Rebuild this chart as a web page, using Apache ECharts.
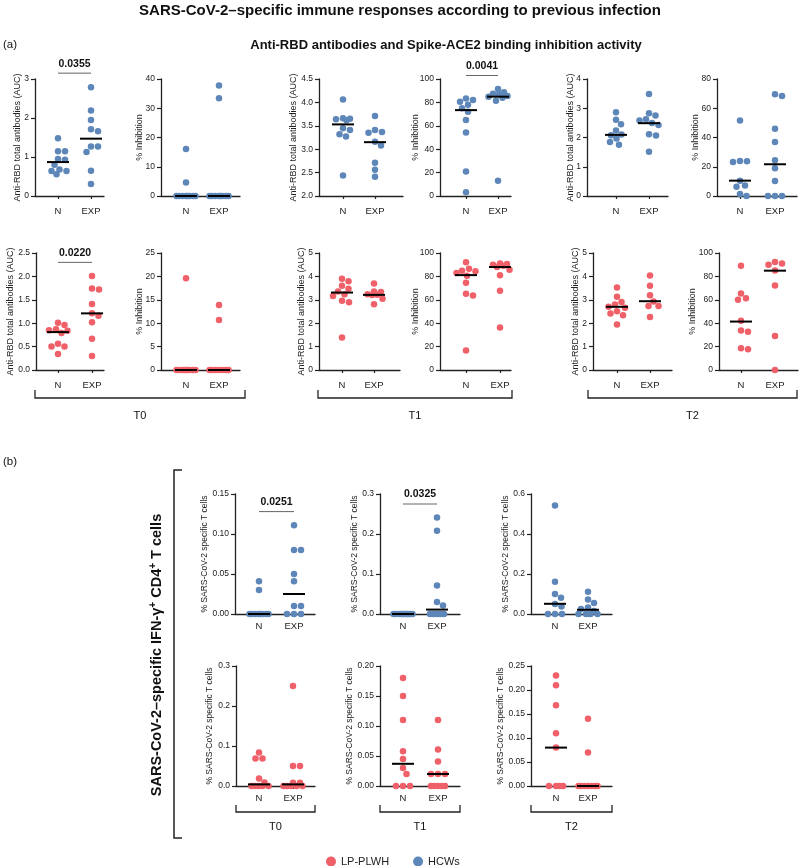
<!DOCTYPE html>
<html><head><meta charset="utf-8">
<script src="https://cdn.jsdelivr.net/npm/echarts@6/dist/echarts.min.js"></script>
<style>html,body{margin:0;padding:0;background:#fff}#c{width:800px;height:866px}</style>
</head><body><div id="c"></div>
<script>
// ---------------- DATA ----------------
const categories = ['N', 'EXP'];
const groups = ['LP-PLWH', 'HCWs'];
const timepoints = ['T0', 'T1', 'T2'];

// (a) HCWs – anti-RBD AUC and % inhibition
const aucT0_HCW_N   = [1.48, 1.15, 1.15, 0.95, 0.93, 0.80, 0.68, 0.64, 0.64, 0.56];
const aucT0_HCW_EXP = [2.79, 2.19, 1.95, 1.71, 1.66, 1.27, 1.27, 1.13, 0.65, 0.31];
const inhT0_HCW_N   = [16.1, 4.6, 0, 0, 0, 0, 0, 0, 0, 0];
const inhT0_HCW_EXP = [37.8, 33.4, 0, 0, 0, 0, 0, 0, 0, 0];
const aucT1_HCW_N   = [4.06, 3.66, 3.65, 3.64, 3.62, 3.45, 3.41, 3.32, 3.27, 2.44];
const aucT1_HCW_EXP = [3.71, 3.41, 3.37, 3.35, 3.16, 3.08, 2.71, 2.56, 2.41];
const inhT1_HCW_N   = [83.4, 82, 80.6, 78, 74.9, 72, 65, 54.3, 20.9, 3.1];
const inhT1_HCW_EXP = [91.4, 88.6, 87.4, 87, 85.4, 84.9, 84, 81.4, 13.1];
const aucT2_HCW_N   = [2.86, 2.61, 2.45, 2.24, 2.10, 2.08, 1.97, 1.85, 1.75];
const aucT2_HCW_EXP = [3.49, 2.83, 2.75, 2.62, 2.58, 2.50, 2.43, 2.11, 2.07, 1.51];
const inhT2_HCW_N   = [51.7, 24, 23.8, 23.3, 10.5, 7.1, 6.4, 1.4, 0];
const inhT2_HCW_EXP = [69.5, 68.3, 45.9, 37, 24.5, 19, 10.3, 0, 0, 0];

// (a) LP-PLWH
const aucT0_PLWH_N   = [1.01, 0.96, 0.87, 0.85, 0.84, 0.79, 0.56, 0.50, 0.50, 0.34];
const aucT0_PLWH_EXP = [2.01, 1.74, 1.72, 1.41, 1.21, 1.16, 1.02, 0.67, 0.30];
const inhT0_PLWH_N   = [19.6, 0, 0, 0, 0, 0, 0, 0, 0, 0];
const inhT0_PLWH_EXP = [13.9, 10.7, 0, 0, 0, 0, 0, 0, 0];
const aucT1_PLWH_N   = [3.90, 3.79, 3.60, 3.47, 3.36, 3.24, 3.16, 2.96, 2.90, 1.39];
const aucT1_PLWH_EXP = [3.70, 3.36, 3.33, 3.24, 3.22, 3.20, 3.04, 2.81];
const inhT1_PLWH_N   = [92, 86.6, 84.9, 84.3, 82.9, 80.6, 74.6, 65.1, 63.7, 16.6];
const inhT1_PLWH_EXP = [91.1, 90.6, 90, 89.1, 88, 85.7, 80.9, 67.7, 36.3];
const aucT2_PLWH_N   = [3.53, 3.13, 2.91, 2.80, 2.70, 2.66, 2.51, 2.41, 2.34, 1.94];
const aucT2_PLWH_EXP = [4.04, 3.60, 3.19, 2.93, 2.73, 2.73, 2.26];
const inhT2_PLWH_N   = [89.1, 65.4, 61.4, 60, 42, 33.7, 32.6, 18.6, 17.7];
const inhT2_PLWH_EXP = [92.3, 91.1, 90, 85.1, 72.3, 29.1, 0];

// (b) % SARS-CoV-2 specific IFN-γ+ CD4+ T cells
const tcT0_HCW_N   = [0.041, 0.030, 0, 0, 0, 0, 0, 0, 0, 0];
const tcT0_HCW_EXP = [0.111, 0.080, 0.080, 0.050, 0.041, 0.010, 0.010, 0, 0, 0];
const tcT1_HCW_N   = [0, 0, 0, 0, 0, 0, 0, 0, 0, 0];
const tcT1_HCW_EXP = [0.241, 0.208, 0.071, 0.030, 0.021, 0, 0, 0, 0, 0];
const tcT2_HCW_N   = [0.542, 0.161, 0.100, 0.081, 0.050, 0.037, 0, 0, 0];
const tcT2_HCW_EXP = [0.111, 0.072, 0.055, 0.033, 0.025, 0.015, 0, 0, 0, 0];
const tcT0_PLWH_N   = [0.084, 0.069, 0.069, 0.019, 0.009, 0, 0, 0, 0, 0];
const tcT0_PLWH_EXP = [0.250, 0.050, 0.050, 0.008, 0.008, 0, 0, 0, 0, 0];
const tcT1_PLWH_N   = [0.180, 0.150, 0.110, 0.058, 0.045, 0.030, 0.020, 0, 0, 0];
const tcT1_PLWH_EXP = [0.110, 0.061, 0.041, 0.020, 0.020, 0.020, 0, 0, 0, 0, 0];
const tcT2_PLWH_N   = [0.230, 0.210, 0.168, 0.110, 0.080, 0, 0, 0, 0];
const tcT2_PLWH_EXP = [0.140, 0.070, 0, 0, 0, 0, 0, 0, 0];

// medians (N, EXP) as drawn
const medAucT0_HCW = [0.87, 1.47], medInhT0_HCW = [0, 0];
const medAucT1_HCW = [3.53, 3.15], medInhT1_HCW = [73.4, 84.9];
const medAucT2_HCW = [2.09, 2.49], medInhT2_HCW = [10.5, 21.7];
const medAucT0_PLWH = [0.81, 1.21], medInhT0_PLWH = [0, 0];
const medAucT1_PLWH = [3.31, 3.21], medInhT1_PLWH = [81.1, 88];
const medAucT2_PLWH = [2.70, 2.94], medInhT2_PLWH = [41.4, 84.9];
const medTcT0_HCW = [0, 0.025], medTcT1_HCW = [0, 0.011], medTcT2_HCW = [0.051, 0.021];
const medTcT0_PLWH = [0.004, 0.004], medTcT1_PLWH = [0.037, 0.020], medTcT2_PLWH = [0.080, 0];

// y-axis ranges [min, max, interval]
const yAucT0_HCW = [0, 3, 1], yInhT0_HCW = [0, 40, 10];
const yAucT1_HCW = [2, 4.5, 0.5], yInhT1_HCW = [0, 100, 20];
const yAucT2_HCW = [0, 4, 1], yInhT2_HCW = [0, 80, 20];
const yAucT0_PLWH = [0, 2.5, 0.5], yInhT0_PLWH = [0, 25, 5];
const yAucT1_PLWH = [0, 5, 1], yInhT1_PLWH = [0, 100, 20];
const yAucT2_PLWH = [0, 5, 1], yInhT2_PLWH = [0, 100, 20];
const yTcT0_HCW = [0, 0.15, 0.05], yTcT1_HCW = [0, 0.3, 0.1], yTcT2_HCW = [0, 0.6, 0.2];
const yTcT0_PLWH = [0, 0.3, 0.1], yTcT1_PLWH = [0, 0.2, 0.05], yTcT2_PLWH = [0, 0.25, 0.05];

// significance p-values and bar levels
const sigLabels = ['0.0355', '0.0041', '0.0220', '0.0251', '0.0325'];
const sigLevels = [3.15, 103, 2.30, 0.128, 0.275];

const nameAUC = 'Anti-RBD total antibodies (AUC)';
const nameInh = '% Inhibition';
const nameTc = '% SARS-CoV-2 specific T cells';

// ---------------- STYLE / LAYOUT ----------------
const FONT = '"Liberation Sans", Arial, Helvetica, sans-serif';
const BLUE = '#5e87b9', RED = '#ef6069', AX = '#222', TXT = '#222';

const A1 = {top: 79, h: 117}, A2 = {top: 253, h: 117};
const B1 = {top: 494, h: 120}, B2 = {top: 666, h: 120};

const panels = [
  {grp: 1, d: [aucT0_HCW_N, aucT0_HCW_EXP], med: medAucT0_HCW, y: yAucT0_HCW, name: nameAUC, nf: 9, r: A1, ax: 35, n: 58, e: 91, end: 104, gap: 13, xm: 10, sig: 0},
  {grp: 1, d: [inhT0_HCW_N, inhT0_HCW_EXP], med: medInhT0_HCW, y: yInhT0_HCW, name: nameInh, nf: 9, r: A1, ax: 161, n: 186, e: 219, end: 240, gap: 17, xm: 10},
  {grp: 1, d: [aucT1_HCW_N, aucT1_HCW_EXP], med: medAucT1_HCW, y: yAucT1_HCW, name: nameAUC, nf: 9, r: A1, ax: 319, n: 343, e: 375, end: 403, gap: 21, xm: 10},
  {grp: 1, d: [inhT1_HCW_N, inhT1_HCW_EXP], med: medInhT1_HCW, y: yInhT1_HCW, name: nameInh, nf: 9, r: A1, ax: 440, n: 466, e: 498, end: 511, gap: 20, xm: 10, sig: 1},
  {grp: 1, d: [aucT2_HCW_N, aucT2_HCW_EXP], med: medAucT2_HCW, y: yAucT2_HCW, name: nameAUC, nf: 9, r: A1, ax: 587, n: 616, e: 649, end: 668, gap: 12, xm: 10},
  {grp: 1, d: [inhT2_HCW_N, inhT2_HCW_EXP], med: medInhT2_HCW, y: yInhT2_HCW, name: nameInh, nf: 9, r: A1, ax: 717, n: 740, e: 775, end: 797, gap: 17, xm: 10},

  {grp: 0, d: [aucT0_PLWH_N, aucT0_PLWH_EXP], med: medAucT0_PLWH, y: yAucT0_PLWH, name: nameAUC, nf: 9, r: A2, ax: 36, n: 58, e: 92, end: 104, gap: 21, xm: 10, sig: 2},
  {grp: 0, d: [inhT0_PLWH_N, inhT0_PLWH_EXP], med: medInhT0_PLWH, y: yInhT0_PLWH, name: nameInh, nf: 9, r: A2, ax: 161, n: 186, e: 219, end: 240, gap: 17, xm: 10},
  {grp: 0, d: [aucT1_PLWH_N, aucT1_PLWH_EXP], med: medAucT1_PLWH, y: yAucT1_PLWH, name: nameAUC, nf: 9, r: A2, ax: 319, n: 342, e: 374, end: 400, gap: 13, xm: 10},
  {grp: 0, d: [inhT1_PLWH_N, inhT1_PLWH_EXP], med: medInhT1_PLWH, y: yInhT1_PLWH, name: nameInh, nf: 9, r: A2, ax: 440, n: 466, e: 500, end: 511, gap: 20, xm: 10},
  {grp: 0, d: [aucT2_PLWH_N, aucT2_PLWH_EXP], med: medAucT2_PLWH, y: yAucT2_PLWH, name: nameAUC, nf: 9, r: A2, ax: 593, n: 617, e: 650, end: 672, gap: 13, xm: 10},
  {grp: 0, d: [inhT2_PLWH_N, inhT2_PLWH_EXP], med: medInhT2_PLWH, y: yInhT2_PLWH, name: nameInh, nf: 9, r: A2, ax: 719, n: 741, e: 775, end: 798, gap: 22, xm: 10},

  {grp: 1, d: [tcT0_HCW_N, tcT0_HCW_EXP], med: medTcT0_HCW, y: yTcT0_HCW, name: nameTc, nf: 8.5, r: B1, ax: 235, n: 259, e: 294, end: 315, gap: 26, xm: 7, sig: 3},
  {grp: 1, d: [tcT1_HCW_N, tcT1_HCW_EXP], med: medTcT1_HCW, y: yTcT1_HCW, name: nameTc, nf: 8.5, r: B1, ax: 380, n: 403, e: 437, end: 460, gap: 21, xm: 7, sig: 4},
  {grp: 1, d: [tcT2_HCW_N, tcT2_HCW_EXP], med: medTcT2_HCW, y: yTcT2_HCW, name: nameTc, nf: 8.5, r: B1, ax: 531, n: 555, e: 588, end: 612, gap: 21, xm: 7},
  {grp: 0, d: [tcT0_PLWH_N, tcT0_PLWH_EXP], med: medTcT0_PLWH, y: yTcT0_PLWH, name: nameTc, nf: 8.5, r: B2, ax: 236, n: 259, e: 293, end: 315, gap: 22, xm: 7},
  {grp: 0, d: [tcT1_PLWH_N, tcT1_PLWH_EXP], med: medTcT1_PLWH, y: yTcT1_PLWH, name: nameTc, nf: 8.5, r: B2, ax: 380, n: 403, e: 438, end: 460, gap: 26, xm: 7},
  {grp: 0, d: [tcT2_PLWH_N, tcT2_PLWH_EXP], med: medTcT2_PLWH, y: yTcT2_PLWH, name: nameTc, nf: 8.5, r: B2, ax: 531, n: 556, e: 588, end: 612, gap: 26, xm: 7}
];

// beeswarm placement (pixel collision avoidance, converted to data offsets)
function swarm(vals, g, pxPerVal, unitPx) {
  const D = 6.8, MAXH = 9.5;
  const order = vals.slice().sort((a, b) => b - a);
  const placed = [], out = [];
  order.forEach(v => {
    const yy = v * pxPerVal;
    let best = 0, bestScore = -1;
    for (let k = 0; k <= Math.round(MAXH * 4); k++) {
      const off = (k % 2 === 1 ? 1 : -1) * Math.ceil(k / 2) * 0.5;
      let md = Infinity;
      placed.forEach(p => { const dd = Math.hypot(p[0] - off, p[1] - yy); if (dd < md) md = dd; });
      if (md >= D) { best = off; break; }
      if (md > bestScore + 1e-6) { bestScore = md; best = off; }
    }
    placed.push([best, yy]);
    out.push([g + best / unitPx, v]);
  });
  return out;
}

const grids = [], xAxes = [], yAxes = [], series = [];
panels.forEach((p, i) => {
  const unit = p.e - p.n, w = p.end - p.ax;
  const xmin = -(p.n - p.ax) / unit, xmax = 1 + (p.end - p.e) / unit;
  const dec = Math.max(0, -Math.floor(Math.log10(p.y[2]) + 1e-9));
  grids.push({left: p.ax, top: p.r.top, width: w, height: p.r.h, containLabel: false, outerBoundsMode: 'none'});
  xAxes.push({
    gridIndex: i, type: 'value', min: xmin, max: xmax,
    axisLine: {show: true, onZero: false, lineStyle: {color: AX, width: 1.3}},
    axisTick: {show: true, customValues: [0, 1], length: 3, lineStyle: {color: AX, width: 1.2}},
    axisLabel: {customValues: [0, 1], formatter: v => categories[Math.round(v)], fontSize: 9.5, color: TXT, fontFamily: FONT, margin: p.xm},
    splitLine: {show: false}
  });
  yAxes.push({
    gridIndex: i, type: 'value', min: p.y[0], max: p.y[1], interval: p.y[2],
    name: p.name, nameLocation: 'middle', nameRotate: 90, nameGap: p.gap, nameMoveOverlap: false,
    nameTextStyle: {fontSize: p.nf, color: TXT, fontFamily: FONT},
    axisLine: {show: true, onZero: false, lineStyle: {color: AX, width: 1.3}},
    axisTick: {show: true, length: 4, lineStyle: {color: AX, width: 1.2}},
    axisLabel: {fontSize: 8.5, color: TXT, fontFamily: FONT, margin: 6, formatter: v => v.toFixed(dec)},
    splitLine: {show: false}
  });
  const pxPerVal = p.r.h / (p.y[1] - p.y[0]);
  const col = p.grp === 1 ? BLUE : RED;
  const pts = [];
  p.d.forEach((vals, g) => swarm(vals.map(v => v - p.y[0]), g, pxPerVal, unit).forEach(q => pts.push([q[0], q[1] + p.y[0]])));
  series.push({
    type: 'scatter', name: groups[p.grp], xAxisIndex: i, yAxisIndex: i, data: pts,
    symbol: 'circle', symbolSize: 6.5, color: col, itemStyle: {color: col, opacity: 1}, z: 3, silent: true
  });
  series.push({
    type: 'custom', xAxisIndex: i, yAxisIndex: i, clip: false, silent: true, z: 5,
    data: p.med.map((m, g) => [g, m]),
    renderItem: (params, api) => {
      const c = api.coord([api.value(0), api.value(1)]);
      return {type: 'line', shape: {x1: c[0] - 11, y1: c[1], x2: c[0] + 11, y2: c[1]}, style: {stroke: '#000', lineWidth: 2}};
    }
  });
  if (p.sig !== undefined) {
    const lbl = sigLabels[p.sig];
    series.push({
      type: 'custom', xAxisIndex: i, yAxisIndex: i, clip: false, silent: true, z: 6,
      data: [[0.5, sigLevels[p.sig]]],
      renderItem: (params, api) => {
        const a = api.coord([0, api.value(1)]), b = api.coord([1, api.value(1)]);
        return {type: 'group', children: [
          {type: 'line', shape: {x1: a[0], y1: a[1], x2: b[0], y2: b[1]}, style: {stroke: '#666', lineWidth: 1}},
          {type: 'text', style: {text: lbl, x: (a[0] + b[0]) / 2, y: a[1] - 9.5, align: 'center', verticalAlign: 'middle', font: 'bold 10.5px ' + FONT, fill: '#111'}}
        ]};
      }
    });
  }
});

// decorations
const gfx = [];
function txt(x, y, s, size, bold, align) {
  gfx.push({type: 'text', x: x, y: y, style: {text: s, font: (bold ? 'bold ' : '') + size + 'px ' + FONT, fill: '#111', align: align || 'center', verticalAlign: 'middle'}});
}
function bracket(x1, x2, y, hgt) {
  gfx.push({type: 'polyline', shape: {points: [[x1, y - hgt], [x1, y], [x2, y], [x2, y - hgt]]}, style: {stroke: AX, lineWidth: 1.3, fill: null}});
}
txt(400, 11, 'SARS-CoV-2–specific immune responses according to previous infection', 15, true);
txt(3, 45, '(a)', 11.5, false, 'left');
txt(446, 45, 'Anti-RBD antibodies and Spike-ACE2 binding inhibition activity', 13, true);
txt(3, 462, '(b)', 11.5, false, 'left');

const aBr = [[35, 245], [318, 512], [588, 797]];
aBr.forEach((b, k) => { bracket(b[0], b[1], 398, 8); txt((b[0] + b[1]) / 2, 416, timepoints[k], 11); });
const bBr = [[236, 315], [380, 460], [531, 612]];
bBr.forEach((b, k) => { bracket(b[0], b[1], 812, 7); txt((b[0] + b[1]) / 2, 827, timepoints[k], 11); });

// left vertical bracket for (b)
gfx.push({type: 'polyline', shape: {points: [[182, 470], [174, 470], [174, 838], [182, 838]]}, style: {stroke: AX, lineWidth: 1.5, fill: null}});
gfx.push({
  type: 'text', x: 157, y: 655, rotation: Math.PI / 2,
  style: {
    text: '{a|SARS-CoV-2–specific IFN-γ}{s|+}{a| CD4}{s|+}{a| T cells}',
    align: 'center', verticalAlign: 'middle',
    rich: {
      a: {font: 'bold 14.5px ' + FONT, fill: '#111', lineHeight: 18},
      s: {font: 'bold 10px ' + FONT, fill: '#111', lineHeight: 18, verticalAlign: 'top', padding: [0, 0, 6, 0]}
    }
  }
});

const chart = echarts.init(document.getElementById('c'), null, {renderer: 'canvas', width: 800, height: 866});
chart.setOption({
  animation: false,
  backgroundColor: '#fff',
  grid: grids, xAxis: xAxes, yAxis: yAxes, series: series,
  legend: {
    data: ['LP-PLWH', 'HCWs'], left: 321, top: 851, icon: 'circle', itemWidth: 10, itemHeight: 10, itemGap: 24,
    selectedMode: false, textStyle: {fontSize: 11, color: TXT, fontFamily: FONT}
  },
  graphic: gfx
});
</script>
</body></html>
